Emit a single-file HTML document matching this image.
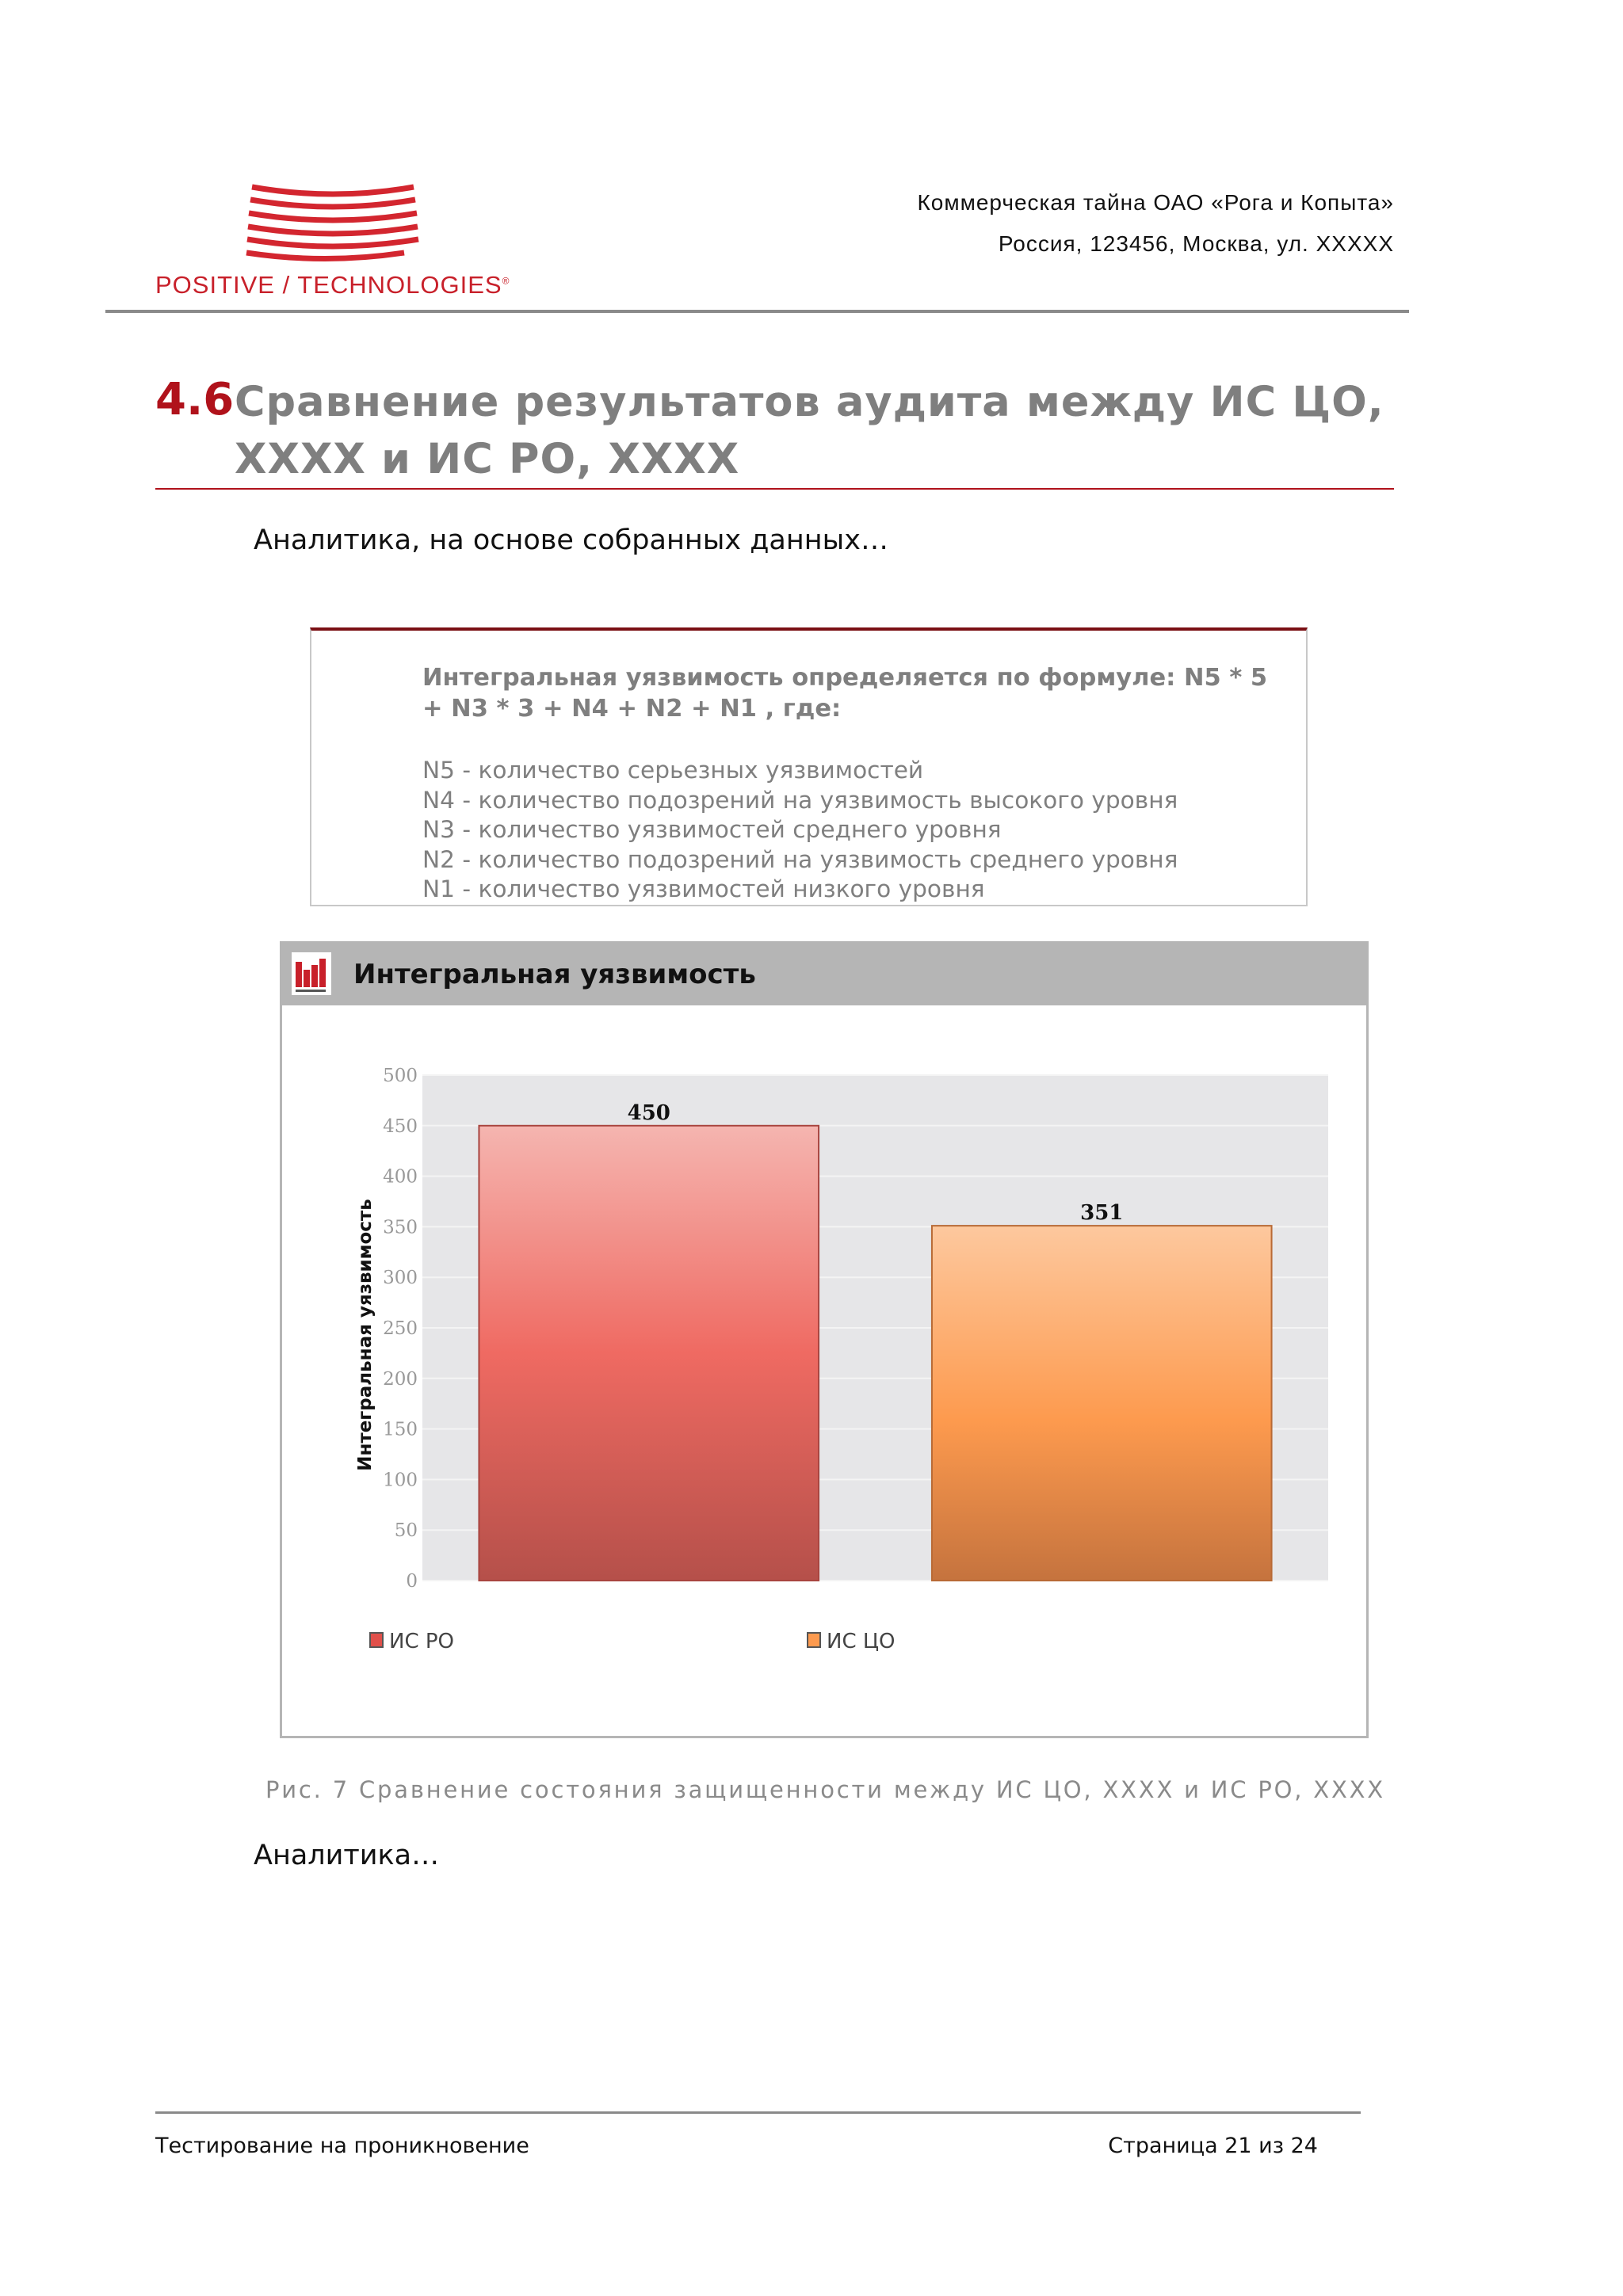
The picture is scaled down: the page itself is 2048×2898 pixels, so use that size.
<!DOCTYPE html>
<html><head><meta charset="utf-8">
<style>
html,body{margin:0;padding:0;background:#fff;}
body{width:2048px;height:2898px;position:relative;overflow:hidden;font-family:"DejaVu Sans","Liberation Sans",sans-serif;}
.a{position:absolute;white-space:nowrap;}
</style></head>
<body>
<div class="a" style="left:300px;top:228px;width:240px;height:112px;">
<svg width="240" height="112" viewBox="0 0 240 112">
<g fill="none" stroke="#d3262f" stroke-width="7">
<path d="M18 8 Q120 26 222 8"/>
<path d="M16 24 Q120 42 224 24"/>
<path d="M14 41 Q120 59 226 41"/>
<path d="M13 58 Q120 76 227 58"/>
<path d="M12 74 Q120 92 228 74"/>
<path d="M11 91 Q110 106 210 91"/>
</g></svg></div>
<div class="a" style="left:196px;top:342px;font-family:'Liberation Sans',sans-serif;font-size:31px;color:#c8202a;letter-spacing:1px;">POSITIVE / TECHNOLOGIES<sup style="font-size:12px">®</sup></div>
<div class="a" style="right:289px;top:240px;font-family:'Liberation Sans',sans-serif;font-size:28px;letter-spacing:1px;color:#111;">Коммерческая тайна ОАО «Рога и Копыта»</div>
<div class="a" style="right:289px;top:292px;font-family:'Liberation Sans',sans-serif;font-size:28px;letter-spacing:1px;color:#111;">Россия, 123456, Москва, ул. XXXXX</div>
<div class="a" style="left:133px;top:391px;width:1645px;height:4px;background:#8a8a8a;"></div>

<div class="a" style="left:196px;top:472px;font-size:56px;font-weight:bold;color:#b0121b;">4.6</div>
<div class="a" style="left:296px;top:472px;font-size:52.5px;font-weight:bold;color:#7f7f7f;line-height:72px;letter-spacing:1px;">Сравнение результатов аудита между ИС ЦО,<br>XXXX и ИС РО, XXXX</div>
<div class="a" style="left:196px;top:616px;width:1563px;height:2px;background:#b0121b;"></div>

<div class="a" style="left:320px;top:662px;font-size:35px;color:#111;">Аналитика, на основе собранных данных…</div>

<div class="a" style="left:391px;top:792px;width:1255px;height:346px;border:2px solid #c8c8c8;border-top:4px solid #7a0f14;"></div>
<div class="a" style="left:533px;top:836px;font-size:30.5px;font-weight:bold;color:#7f7f7f;line-height:39px;">Интегральная уязвимость определяется по формуле: N5 * 5<br>+ N3 * 3 + N4 + N2 + N1 , где:</div>
<div class="a" style="left:533px;top:954px;font-size:29.6px;color:#7f7f7f;line-height:37.5px;">N5 - количество серьезных уязвимостей<br>N4 - количество подозрений на уязвимость высокого уровня<br>N3 - количество уязвимостей среднего уровня<br>N2 - количество подозрений на уязвимость среднего уровня<br>N1 - количество уязвимостей низкого уровня</div>

<div class="a" style="left:353px;top:1188px;width:1368px;height:1000px;border:3px solid #b5b5b5;background:#fff;"></div>
<div class="a" style="left:356px;top:1191px;width:1368px;height:78px;background:#b5b5b5;"></div>
<div class="a" style="left:368px;top:1202px;width:50px;height:54px;background:#fff;">
<svg width="50" height="54"><g fill="#c8202a"><rect x="5" y="12" width="8" height="32"/><rect x="15" y="22" width="8" height="22"/><rect x="25" y="16" width="8" height="28"/><rect x="35" y="8" width="8" height="36"/></g><rect x="5" y="47" width="38" height="3" fill="#555"/></svg></div>
<div class="a" style="left:446px;top:1210px;font-size:34px;font-weight:bold;color:#111;">Интегральная уязвимость</div>

<svg id="chart" class="a" style="left:0;top:0;" width="2048" height="2898">
<defs>
<linearGradient id="gRed" x1="0" y1="0" x2="0" y2="1"><stop offset="0" stop-color="#f5b5b0"/><stop offset="0.5" stop-color="#ef6a62"/><stop offset="1" stop-color="#b5504a"/></linearGradient>
<linearGradient id="gOr" x1="0" y1="0" x2="0" y2="1"><stop offset="0" stop-color="#fdc89e"/><stop offset="0.55" stop-color="#fd9a4e"/><stop offset="1" stop-color="#c5733e"/></linearGradient>
</defs>
</svg>

<div class="a" style="left:335px;top:2242px;font-size:29px;color:#8a8a8a;letter-spacing:2.8px;">Рис. 7 Сравнение состояния защищенности между ИС ЦО, XXXX и ИС РО, XXXX</div>
<div class="a" style="left:320px;top:2322px;font-size:35px;color:#111;">Аналитика…</div>

<div class="a" style="left:196px;top:2665px;width:1521px;height:3px;background:#8a8a8a;"></div>
<div class="a" style="left:196px;top:2693px;font-size:27px;color:#111;">Тестирование на проникновение</div>
<div class="a" style="right:385px;top:2693px;font-size:27px;color:#111;">Страница 21 из 24</div>

<script>
const categories = ["ИС РО", "ИС ЦО"];
const values = [450, 351];
const yTicks = [0, 50, 100, 150, 200, 250, 300, 350, 400, 450, 500];
const fills = ["url(#gRed)", "url(#gOr)"];
const legendColors = ["#e0504a", "#fd9a4e"];

const svg = document.getElementById('chart');
const NS = 'http://www.w3.org/2000/svg';
const X0 = 533, X1 = 1676, Y0 = 1995, Y1 = 1357, YMAX = 500;
function y(v){ return Y0 - (v / YMAX) * (Y0 - Y1); }
const band = (X1 - X0) / categories.length;
const barW = band * 0.75;
function xc(i){ return X0 + band * (i + 0.5); }
function mk(tag, attrs){ const e = document.createElementNS(NS, tag); for (const k in attrs) e.setAttribute(k, attrs[k]); svg.appendChild(e); return e; }

const bg = mk('rect', {x: X0, y: Y1, width: X1 - X0, height: Y0 - Y1, fill: '#e6e6e8'});


yTicks.forEach(t => {
  const g = mk('line', {x1: X0, x2: X1, y1: y(t), y2: y(t), stroke: '#f4f4f4', 'stroke-width': 2});
  
  
  const l = mk('text', {x: X0 - 6, y: y(t) + 8, 'text-anchor': 'end', 'font-size': 23, fill: '#999', 'font-family': 'DejaVu Serif, serif'});
  l.textContent = t;
  
  
});
categories.forEach((c, i) => {
  const cx = xc(i);
  const r = mk('rect', {x: cx - barW / 2, y: y(values[i]), width: barW, height: Y0 - y(values[i]), fill: fills[i], stroke: i === 0 ? '#a84540' : '#b86a35', 'stroke-width': 2});
  
  
  const v = mk('text', {x: cx, y: y(values[i]) - 8, 'text-anchor': 'middle', 'font-size': 26, 'font-weight': 'bold', fill: '#111', 'font-family': 'DejaVu Serif, serif'});
  v.textContent = values[i];
  
  
  const lx = [467, 1019][i];
  const sq = mk('rect', {x: lx, y: 2061, width: 16, height: 18, fill: legendColors[i], stroke: '#555', 'stroke-width': 2});
  
  
  const lt = mk('text', {x: lx + 24, y: 2080, 'font-size': 26, fill: '#444', 'font-family': 'DejaVu Sans, sans-serif'});
  lt.textContent = c;
  
  
});
const yt = mk('text', {x: 0, y: 0, 'text-anchor': 'middle', 'font-size': 23, 'font-weight': 'bold', fill: '#111', transform: 'translate(468,1685) rotate(-90)', 'font-family': 'DejaVu Sans, sans-serif'});
yt.textContent = 'Интегральная уязвимость';


</script>
</body></html>
